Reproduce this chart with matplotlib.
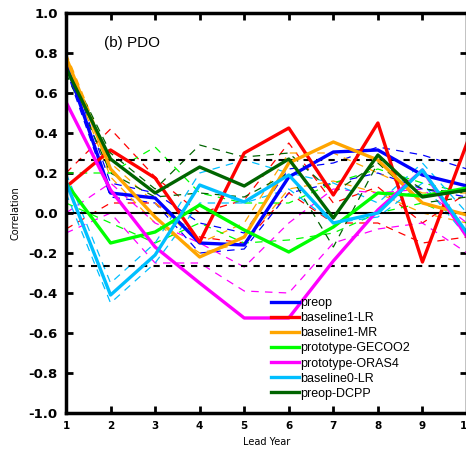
import matplotlib
matplotlib.use("Agg")
import matplotlib.pyplot as plt

lead_years = [1, 2, 3, 4, 5, 6, 7, 8, 9, 10]
labels = ["preop", "baseline1-LR", "baseline1-MR", "prototype-GECOO2",
          "prototype-ORAS4", "baseline0-LR", "preop-DCPP"]
colors = ["#0000ff", "#ff0000", "#ffa500", "#00ff00", "#ff00ff", "#00bfff", "#006400"]

preop = [0.75, 0.10, 0.075, -0.15, -0.16, 0.18, 0.305, 0.315, 0.19, 0.135]
baseline1_lr = [0.13, 0.315, 0.175, -0.145, 0.30, 0.425, 0.09, 0.45, -0.245, 0.35]
baseline1_mr = [0.78, 0.22, -0.02, -0.22, -0.12, 0.25, 0.355, 0.265, 0.05, -0.01]
gecoo2 = [0.15, -0.15, -0.095, 0.04, -0.085, -0.195, -0.07, 0.10, 0.085, 0.125]
oras4 = [0.555, 0.115, -0.17, -0.35, -0.525, -0.525, -0.24, 0.015, 0.215, -0.12]
baseline0_lr = [0.155, -0.41, -0.21, 0.14, 0.055, 0.19, -0.05, 0.0, 0.215, -0.10]
preop_dcpp = [0.725, 0.27, 0.10, 0.23, 0.135, 0.27, -0.025, 0.29, 0.08, 0.115]

# dashed (upper / lower) lines for each series
preop_hi = [0.78, 0.15, 0.10, -0.05, -0.10, 0.22, 0.25, 0.33, 0.29, 0.22]
preop_lo = [0.72, 0.08, 0.05, -0.20, -0.18, 0.10, 0.15, 0.20, 0.12, 0.08]
baseline1_lr_hi = [0.20, 0.42, 0.18, 0.00, 0.065, 0.35, 0.05, 0.13, -0.05, 0.10]
baseline1_lr_lo = [-0.08, 0.05, 0.05, -0.12, -0.15, 0.10, -0.05, -0.05, -0.15, -0.12]
baseline1_mr_hi = [0.80, 0.25, 0.05, -0.15, -0.05, 0.30, 0.30, 0.20, 0.10, 0.10]
baseline1_mr_lo = [0.75, 0.18, -0.05, -0.20, -0.15, 0.12, 0.16, 0.10, 0.00, -0.05]
gecoo2_hi = [0.20, 0.20, 0.33, 0.10, 0.05, 0.05, 0.15, 0.22, 0.15, 0.10]
gecoo2_lo = [0.05, -0.05, -0.15, -0.05, -0.15, -0.135, -0.10, 0.00, 0.05, -0.05]
oras4_hi = [0.00, 0.15, -0.05, -0.15, -0.27, -0.05, 0.12, 0.10, 0.12, -0.05]
oras4_lo = [-0.10, 0.00, -0.25, -0.25, -0.39, -0.40, -0.15, -0.08, -0.05, -0.20]
baseline0_lr_hi = [0.20, -0.35, -0.15, 0.20, 0.265, 0.20, 0.15, 0.05, 0.25, 0.00]
baseline0_lr_lo = [0.10, -0.45, -0.25, 0.05, 0.05, 0.12, -0.05, -0.02, 0.15, -0.12]
preop_dcpp_hi = [0.75, 0.30, 0.12, 0.34, 0.28, 0.30, 0.10, 0.25, 0.12, 0.10]
preop_dcpp_lo = [0.70, 0.20, 0.08, 0.10, 0.08, 0.20, -0.17, 0.25, 0.05, 0.08]

sig_level = 0.265

solids = [preop, baseline1_lr, baseline1_mr, gecoo2, oras4, baseline0_lr, preop_dcpp]
his = [preop_hi, baseline1_lr_hi, baseline1_mr_hi, gecoo2_hi, oras4_hi, baseline0_lr_hi, preop_dcpp_hi]
los = [preop_lo, baseline1_lr_lo, baseline1_mr_lo, gecoo2_lo, oras4_lo, baseline0_lr_lo, preop_dcpp_lo]

fig = plt.figure(figsize=(4.66, 4.49), dpi=100)
ax = fig.add_axes([66 / 466, 1 - 413 / 449, (467 - 66) / 466, 400 / 449])

for hi, lo, c in zip(his, los, colors):
    ax.plot(lead_years, hi, color=c, lw=0.9, dashes=(6, 5))
    ax.plot(lead_years, lo, color=c, lw=0.9, dashes=(6, 5))

ax.axhline(0, color="black", lw=1.5)
ax.axhline(sig_level, color="black", lw=1.5, dashes=(3, 3))
ax.axhline(-sig_level, color="black", lw=1.5, dashes=(3, 3))

handles = []
for s, c, l in zip(solids, colors, labels):
    h, = ax.plot(lead_years, s, color=c, lw=2.4, label=l)
    handles.append(h)

ax.set_xlim(1, 10)
ax.set_ylim(-1.0, 1.0)
ax.set_xticks(lead_years)
ax.set_xticklabels([str(v) for v in lead_years], fontweight="bold", fontsize=7.5)
yt = [-1.0, -0.8, -0.6, -0.4, -0.2, 0.0, 0.2, 0.4, 0.6, 0.8, 1.0]
ax.set_yticks(yt)
ax.set_yticklabels([f"{v:.1f}" for v in yt], fontweight="bold", fontsize=9.5)
ax.tick_params(direction="in", length=5, width=2, top=True, right=True, pad=6)
for sp in ax.spines.values():
    sp.set_linewidth(2.5)

ax.set_xlabel("Lead Year", fontsize=7, labelpad=4)
ax.set_ylabel("Correlation", fontsize=7, labelpad=6)

ax.text(0.095, 0.925, "(b) PDO", transform=ax.transAxes, fontsize=11,
        family="Liberation Sans", va="center")

leg = ax.legend(handles=handles, loc="upper left", bbox_to_anchor=(0.512, 0.29),
                frameon=False, handlelength=2.2, handletextpad=0.1,
                labelspacing=0.25, borderpad=0, borderaxespad=0,
                prop={"family": "Liberation Sans", "size": 9})

fig.savefig("out.png", dpi=100)
